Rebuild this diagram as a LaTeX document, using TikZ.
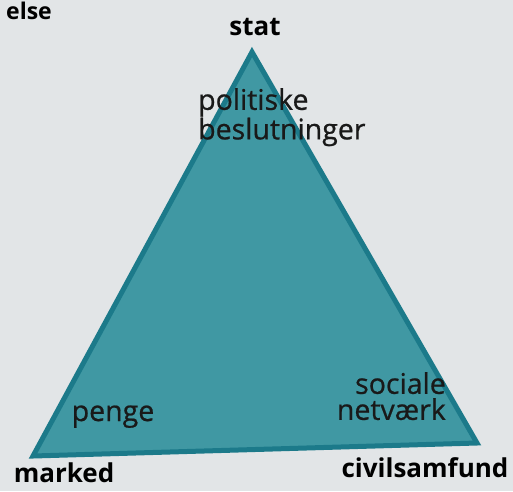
\documentclass[tikz,border=0pt]{standalone}
\usepackage{fontspec}
\setmainfont{Open Sans}
\newfontfamily\midfont{Open Sans}[FakeBold=0.7]
\definecolor{paper}{RGB}{226,229,231}
\definecolor{tealfill}{RGB}{64,152,163}
\definecolor{tealedge}{RGB}{28,122,138}
\tikzset{
  corner/.style={font=\fontsize{26}{28}\selectfont\bfseries, text=black, inner sep=0pt},
  inside/.style={font=\midfont\fontsize{28.5}{26}\selectfont, text=black!90, inner sep=0pt}
}
\begin{document}
\begin{tikzpicture}[x=1pt,y=-1pt]
\useasboundingbox [fill=paper] (0,0) rectangle (513,491);
\coordinate (top) at (252,52);
\coordinate (left) at (33,456);
\coordinate (right) at (477,443);
\draw [fill=tealfill, draw=tealedge, line width=5pt, line join=miter] (top) -- (left) -- (right) -- cycle;

\node [corner, font=\fontsize{23}{25}\selectfont\bfseries, anchor=base east] (cut) at (52,19) {else};
\node [corner, anchor=base] (stat) at (255,35) {stat};
\node [corner, anchor=base] (marked) at (64,482) {marked};
\node [corner, anchor=base] (civil) at (425,477) {civilsamfund};

\node [inside, align=left, anchor=north west] (politik) at (198,88) {politiske\\beslutninger};
\node [inside, anchor=base] (penge) at (113,421) {penge};
\node [inside, align=right, anchor=north east] (social) at (446,372) {sociale\\netværk};
\end{tikzpicture}
\end{document}
